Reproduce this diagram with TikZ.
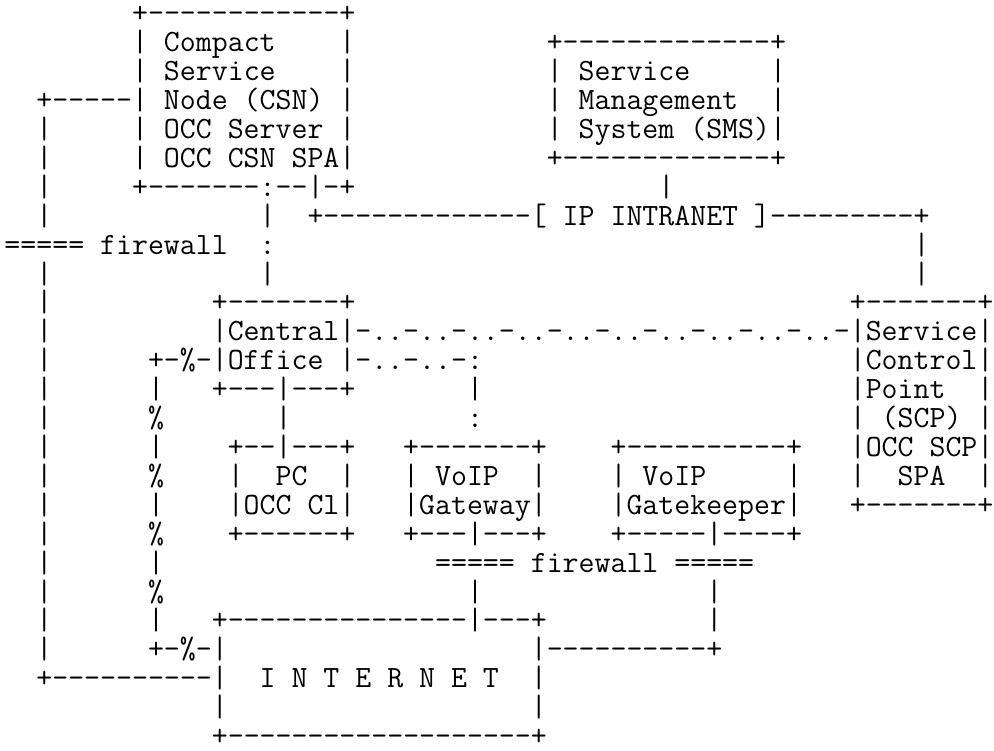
\documentclass[tikz,border=0pt]{standalone}
\usepackage{tikz}
\newlength\asccw
\setlength\asccw{15.95pt}
\newlength\asctmp
\settowidth\asctmp{\ttfamily\fontsize{30pt}{32pt}\selectfont MMMMMMMMMM}
\pgfmathsetmacro\ascfs{30*159.5/\asctmp}
\newcommand\ascg[1]{\hspace*{#1\asccw}}
\tikzset{asc/.style={anchor=base west, inner sep=0pt, outer sep=0pt,
  font=\ttfamily\fontsize{\ascfs pt}{32pt}\selectfont}}
\begin{document}
\begin{tikzpicture}
\useasboundingbox (0,0) rectangle (994pt,-751pt);
\begin{scope}[x=15.95pt,y=-28.9pt,shift={(4.5pt,-23pt)}]
\node[asc] (row0) at (8,0) {+------------+};
\node[asc] (row1) at (8,1) {|\ascg{1}Compact\ascg{4}|\ascg{12}+-------------+};
\node[asc] (row2) at (8,2) {|\ascg{1}Service\ascg{4}|\ascg{12}|\ascg{1}Service\ascg{5}|};
\node[asc] (row3) at (2,3) {+-----|\ascg{1}Node\ascg{1}(CSN)\ascg{1}|\ascg{12}|\ascg{1}Management\ascg{2}|};
\node[asc] (row4) at (2,4) {|\ascg{5}|\ascg{1}OCC\ascg{1}Server\ascg{1}|\ascg{12}|\ascg{1}System\ascg{1}(SMS)|};
\node[asc] (row5) at (2,5) {|\ascg{5}|\ascg{1}OCC\ascg{1}CSN\ascg{1}SPA|\ascg{12}+-------------+};
\node[asc] (row6) at (2,6) {|\ascg{5}+-------:--|-+\ascg{19}|};
\node[asc] (row7) at (2,7) {|\ascg{13}|\ascg{2}+-------------[\ascg{1}IP\ascg{1}INTRANET\ascg{1}]---------+};
\node[asc] (row8) at (0,8) {=====\ascg{1}firewall\ascg{2}:\ascg{40}|};
\node[asc] (row9) at (2,9) {|\ascg{13}|\ascg{40}|};
\node[asc] (row10) at (2,10) {|\ascg{10}+-------+\ascg{31}+-------+};
\node[asc] (row11) at (2,11) {|\ascg{10}|Central|-..-..-..-..-..-..-..-..-..-..-|Service|};
\node[asc] (row12) at (2,12) {|\ascg{6}+-\%-|Office\ascg{1}|-..-..-:\ascg{23}|Control|};
\node[asc] (row13) at (2,13) {|\ascg{6}|\ascg{3}+---|---+\ascg{7}|\ascg{23}|Point\ascg{2}|};
\node[asc] (row14) at (2,14) {|\ascg{6}\%\ascg{7}|\ascg{11}:\ascg{23}|\ascg{1}(SCP)\ascg{1}|};
\node[asc] (row15) at (2,15) {|\ascg{6}|\ascg{4}+--|---+\ascg{3}+-------+\ascg{4}+----------+\ascg{3}|OCC\ascg{1}SCP|};
\node[asc] (row16) at (2,16) {|\ascg{6}\%\ascg{4}|\ascg{2}PC\ascg{2}|\ascg{3}|\ascg{1}VoIP\ascg{2}|\ascg{4}|\ascg{1}VoIP\ascg{5}|\ascg{3}|\ascg{2}SPA\ascg{2}|};
\node[asc] (row17) at (2,17) {|\ascg{6}|\ascg{4}|OCC\ascg{1}Cl|\ascg{3}|Gateway|\ascg{4}|Gatekeeper|\ascg{3}+-------+};
\node[asc] (row18) at (2,18) {|\ascg{6}\%\ascg{4}+------+\ascg{3}+---|---+\ascg{4}+-----|----+};
\node[asc] (row19) at (2,19) {|\ascg{6}|\ascg{17}=====\ascg{1}firewall\ascg{1}=====};
\node[asc] (row20) at (2,20) {|\ascg{6}\%\ascg{19}|\ascg{14}|};
\node[asc] (row21) at (2,21) {|\ascg{6}|\ascg{3}+---------------|---+\ascg{10}|};
\node[asc] (row22) at (2,22) {|\ascg{6}+-\%-|\ascg{19}|----------+};
\node[asc] (row23) at (2,23) {+----------|\ascg{2}I\ascg{1}N\ascg{1}T\ascg{1}E\ascg{1}R\ascg{1}N\ascg{1}E\ascg{1}T\ascg{2}|};
\node[asc] (row24) at (13,24) {|\ascg{19}|};
\node[asc] (row25) at (13,25) {+-------------------+};
\end{scope}
\end{tikzpicture}
\end{document}
